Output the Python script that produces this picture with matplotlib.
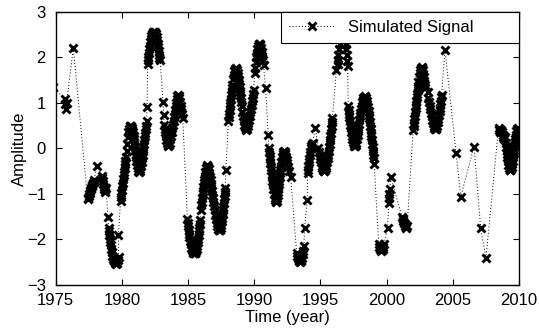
import matplotlib
matplotlib.use('Agg')
import matplotlib.pyplot as plt

plt.rcParams['font.family'] = ['Liberation Sans', 'DejaVu Sans']

# simulated signal (time in years, amplitude)
years = [
    1974.8, 1975.7, 1975.74, 1975.78, 1975.82, 1976.33,
    1977.42, 1977.46, 1977.5, 1977.54, 1977.58, 1977.62, 1977.66, 1977.7, 1977.74, 1977.78, 1977.82, 1977.86, 1977.9, 1978.1,
    1978.5, 1978.53, 1978.56, 1978.6, 1978.63, 1978.66, 1978.7, 1978.75, 1978.8, 1978.94,
    1979.0, 1979.03, 1979.06, 1979.09, 1979.12, 1979.15, 1979.18, 1979.22, 1979.27, 1979.33, 1979.4, 1979.47,
    1979.55, 1979.63, 1979.7, 1979.76, 1979.74,
    1979.9, 1979.93, 1979.96, 1980.0, 1980.03, 1980.06, 1980.1, 1980.13, 1980.16, 1980.2, 1980.23, 1980.26, 1980.3,
    1980.35, 1980.4, 1980.45, 1980.5, 1980.55, 1980.6, 1980.65, 1980.7, 1980.75, 1980.8, 1980.85,
    1980.88, 1980.91, 1980.94, 1980.97, 1981.0, 1981.03, 1981.06, 1981.1, 1981.15, 1981.2, 1981.25, 1981.3, 1981.35,
    1981.4, 1981.45, 1981.5, 1981.53, 1981.56, 1981.6, 1981.63, 1981.66, 1981.7, 1981.73, 1981.76, 1981.8, 1981.83,
    1981.86, 1981.9,
    1981.95, 1981.98, 1982.01, 1982.04, 1982.07, 1982.1, 1982.14, 1982.18, 1982.23, 1982.28, 1982.33, 1982.38, 1982.43,
    1982.48, 1982.53, 1982.58, 1982.63, 1982.68, 1982.72, 1982.75, 1982.78, 1982.81, 1982.84, 1982.9,
    1983.1, 1983.15, 1983.2,
    1983.23, 1983.26, 1983.3, 1983.34, 1983.4, 1983.45, 1983.5, 1983.55, 1983.6, 1983.65, 1983.7, 1983.75, 1983.8, 1983.85,
    1983.9, 1983.95, 1984.0, 1984.03, 1984.06, 1984.1, 1984.15, 1984.2, 1984.25, 1984.3, 1984.35, 1984.4, 1984.45, 1984.5,
    1984.55, 1984.6,
    1984.95, 1984.98, 1985.01, 1985.04, 1985.07, 1985.1, 1985.15, 1985.2, 1985.25, 1985.3, 1985.35, 1985.4, 1985.45,
    1985.5, 1985.55, 1985.6, 1985.65, 1985.7, 1985.73, 1985.76, 1985.79, 1985.82, 1985.85, 1985.88, 1985.92,
    1985.96, 1986.0, 1986.03, 1986.06, 1986.09, 1986.12, 1986.15, 1986.18, 1986.21, 1986.25, 1986.3, 1986.35, 1986.4,
    1986.45, 1986.5, 1986.55, 1986.6, 1986.65, 1986.7, 1986.73, 1986.76, 1986.8,
    1986.83, 1986.87, 1986.91, 1986.95, 1987.0, 1987.05, 1987.1, 1987.15, 1987.2, 1987.25, 1987.3, 1987.35, 1987.4,
    1987.45, 1987.5, 1987.55, 1987.58, 1987.61, 1987.64, 1987.67, 1987.7, 1987.73, 1987.76, 1987.79, 1987.82, 1987.85,
    1988.05, 1988.08, 1988.11, 1988.14, 1988.17, 1988.2, 1988.23, 1988.26, 1988.29, 1988.32, 1988.35, 1988.4, 1988.45,
    1988.5, 1988.55, 1988.6, 1988.65, 1988.7, 1988.75, 1988.8, 1988.83, 1988.86, 1988.89, 1988.92, 1988.95, 1988.98,
    1989.01, 1989.05, 1989.1, 1989.15, 1989.2, 1989.25, 1989.3, 1989.35, 1989.4, 1989.45, 1989.5, 1989.55, 1989.6,
    1989.65, 1989.7, 1989.75, 1989.8, 1989.84, 1989.88, 1989.92, 1989.96,
    1990.02, 1990.06, 1990.1, 1990.14, 1990.18, 1990.22, 1990.27, 1990.32, 1990.37, 1990.42, 1990.47, 1990.52, 1990.56,
    1990.6, 1990.64, 1990.7, 1990.85, 1991.06,
    1991.1, 1991.13, 1991.16, 1991.19, 1991.22, 1991.25, 1991.28, 1991.31, 1991.34, 1991.37, 1991.4, 1991.44, 1991.48,
    1991.53, 1991.58, 1991.63, 1991.68, 1991.73, 1991.77, 1991.8, 1991.83, 1991.86, 1991.89, 1991.92, 1991.95, 1991.98,
    1992.01, 1992.05, 1992.1, 1992.15, 1992.2, 1992.25, 1992.3, 1992.35, 1992.4, 1992.45, 1992.5, 1992.55, 1992.6, 1992.75,
    1993.2, 1993.25, 1993.3, 1993.35, 1993.4, 1993.45, 1993.5, 1993.55, 1993.6, 1993.65, 1993.7, 1993.75, 1993.8, 1994.0,
    1994.03, 1994.06, 1994.09, 1994.12, 1994.15, 1994.18, 1994.22, 1994.26, 1994.3, 1994.35, 1994.4, 1994.6,
    1994.85, 1994.9, 1994.95, 1995.0, 1995.05, 1995.1, 1995.15, 1995.2, 1995.25, 1995.3, 1995.35, 1995.4, 1995.45,
    1995.5, 1995.55, 1995.6, 1995.63, 1995.66, 1995.69, 1995.72, 1995.75, 1995.78, 1995.81, 1995.84, 1995.87, 1995.9,
    1996.2,
    1996.3, 1996.33, 1996.36, 1996.4, 1996.44, 1996.5, 1996.6, 1996.7, 1996.8, 1996.86, 1996.9, 1996.94, 1996.98,
    1997.02, 1997.05,
    1997.1, 1997.13, 1997.16, 1997.19, 1997.22, 1997.25, 1997.28, 1997.31, 1997.35, 1997.4, 1997.45, 1997.5, 1997.55,
    1997.6, 1997.65, 1997.7, 1997.75, 1997.8, 1997.83, 1997.86, 1997.89, 1997.92, 1997.95,
    1998.0, 1998.05, 1998.1, 1998.15, 1998.2, 1998.25, 1998.3, 1998.35, 1998.4, 1998.45, 1998.5, 1998.55, 1998.6,
    1998.63, 1998.66, 1998.7, 1998.73, 1998.76, 1998.79, 1998.82, 1998.85, 1998.88, 1998.91, 1998.94, 1998.97, 1999.0,
    1999.03, 1999.06,
    1999.4, 1999.45, 1999.5, 1999.55, 1999.6, 1999.65, 1999.7, 1999.75, 1999.8, 2000.07, 2000.15, 2000.18, 2000.21,
    2000.25, 2000.3,
    2001.15, 2001.2, 2001.25, 2001.3, 2001.35, 2001.4, 2001.45, 2001.55,
    2002.0, 2002.03, 2002.06, 2002.09, 2002.12, 2002.15, 2002.18, 2002.21, 2002.24, 2002.27, 2002.3, 2002.33, 2002.36,
    2002.4, 2002.45, 2002.5, 2002.55, 2002.6, 2002.65, 2002.7, 2002.75, 2002.78, 2002.81, 2002.84, 2002.87, 2002.9,
    2003.1, 2003.15, 2003.2, 2003.25, 2003.3, 2003.35, 2003.4, 2003.45, 2003.5, 2003.55, 2003.6, 2003.65, 2003.7,
    2003.75, 2003.8, 2003.85, 2003.9, 2003.95, 2004.0, 2004.03, 2004.06, 2004.09, 2004.12, 2004.15,
    2004.4, 2005.25, 2005.6, 2006.6, 2007.1, 2007.5,
    2008.45, 2008.5, 2008.55, 2008.6, 2008.65, 2008.7, 2008.75, 2008.8, 2008.85, 2008.9, 2008.95,
    2009.0, 2009.03, 2009.06, 2009.09, 2009.12, 2009.16, 2009.2, 2009.25, 2009.3, 2009.35, 2009.4, 2009.45, 2009.5,
    2009.53, 2009.56, 2009.59, 2009.62, 2009.65, 2009.68, 2009.72, 2009.76, 2009.8, 2009.85, 2009.9, 2009.95, 2010.0,
    2010.1,
]
amplitude = [
    1.35, 1.08, 0.98, 0.87, 1.0, 2.2,
    -1.12, -1.08, -1.05, -1.01, -0.97, -0.93, -0.9, -0.86, -0.83, -0.8, -0.76, -0.73, -0.7, -0.39,
    -0.6, -0.66, -0.72, -0.78, -0.84, -0.9, -0.96, -0.92, -0.86, -1.51,
    -1.75, -1.82, -1.9, -1.98, -2.05, -2.12, -2.2, -2.28, -2.36, -2.43, -2.48, -2.52,
    -2.54, -2.52, -2.46, -2.38, -1.9,
    -1.15, -1.07, -0.99, -0.91, -0.83, -0.75, -0.67, -0.59, -0.51, -0.43, -0.35, -0.27, -0.19,
    -0.05, 0.1, 0.25, 0.35, 0.42, 0.48, 0.5, 0.48, 0.45, 0.4, 0.35,
    0.28, 0.2, 0.12, 0.04, -0.04, -0.12, -0.2, -0.28, -0.36, -0.44, -0.5, -0.52, -0.5,
    -0.45, -0.38, -0.3, -0.22, -0.14, -0.06, 0.02, 0.1, 0.18, 0.26, 0.34, 0.42, 0.5,
    0.6, 0.9,
    1.85, 1.93, 2.01, 2.09, 2.17, 2.25, 2.33, 2.4, 2.46, 2.5, 2.53, 2.55, 2.56,
    2.55, 2.53, 2.5, 2.45, 2.38, 2.3, 2.22, 2.14, 2.06, 1.98, 1.94,
    1.02, 0.73, 0.51,
    0.43, 0.35, 0.27, 0.19, 0.12, 0.07, 0.05, 0.07, 0.12, 0.2, 0.28, 0.36, 0.44, 0.52,
    0.6, 0.68, 0.76, 0.84, 0.92, 1.0, 1.08, 1.14, 1.17, 1.15, 1.1, 1.02, 0.94, 0.86,
    0.76, 0.66,
    -1.55, -1.63, -1.71, -1.79, -1.87, -1.95, -2.03, -2.11, -2.18, -2.23, -2.27, -2.29, -2.3,
    -2.3, -2.29, -2.26, -2.21, -2.14, -2.06, -1.98, -1.9, -1.82, -1.74, -1.66, -1.58,
    -1.35, -1.25, -1.17, -1.09, -1.01, -0.93, -0.85, -0.77, -0.69, -0.61, -0.52, -0.44, -0.38,
    -0.37, -0.4, -0.46, -0.54, -0.62, -0.7, -0.78, -0.86, -0.94,
    -1.02, -1.1, -1.18, -1.26, -1.36, -1.46, -1.55, -1.63, -1.7, -1.76, -1.79, -1.8, -1.79,
    -1.75, -1.68, -1.6, -1.52, -1.44, -1.36, -1.28, -1.2, -1.12, -1.04, -0.96, -0.88, -0.47,
    0.6, 0.68, 0.76, 0.84, 0.92, 1.0, 1.08, 1.16, 1.24, 1.32, 1.4, 1.52, 1.62,
    1.7, 1.75, 1.76, 1.75, 1.72, 1.66, 1.58, 1.5, 1.42, 1.34, 1.26, 1.18, 1.1,
    1.02, 0.92, 0.8, 0.7, 0.6, 0.52, 0.46, 0.42, 0.41, 0.43, 0.48, 0.55, 0.63,
    0.71, 0.79, 0.87, 0.95, 1.03, 1.11, 1.19, 1.27,
    1.65, 1.77, 1.89, 2.0, 2.1, 2.18, 2.25, 2.29, 2.3, 2.29, 2.26, 2.2, 2.12,
    2.03, 1.94, 1.83, 1.32, 0.29,
    0.0, -0.08, -0.16, -0.24, -0.32, -0.4, -0.48, -0.56, -0.64, -0.72, -0.8, -0.9, -1.0,
    -1.08, -1.14, -1.17, -1.15, -1.1, -1.03, -0.95, -0.87, -0.79, -0.71, -0.63, -0.55, -0.47,
    -0.39, -0.3, -0.2, -0.12, -0.07, -0.06, -0.08, -0.12, -0.18, -0.25, -0.33, -0.41, -0.5, -0.62,
    -2.3, -2.36, -2.41, -2.45, -2.48, -2.49, -2.48, -2.45, -2.4, -2.33, -2.25, -2.15, -1.75, -1.13,
    -0.55, -0.47, -0.39, -0.31, -0.23, -0.15, -0.07, 0.0, 0.05, 0.09, 0.12, 0.45,
    0.0, -0.08, -0.16, -0.24, -0.31, -0.38, -0.43, -0.47, -0.5, -0.5, -0.48, -0.44, -0.38,
    -0.3, -0.22, -0.14, -0.06, 0.02, 0.1, 0.18, 0.26, 0.34, 0.42, 0.5, 0.58, 0.66,
    1.72,
    1.85, 1.95, 2.05, 2.18, 2.3, 2.45, 2.6, 2.65, 2.55, 2.42, 2.3, 2.18, 2.05,
    1.92, 1.8,
    0.92, 0.84, 0.76, 0.68, 0.6, 0.52, 0.44, 0.36, 0.28, 0.2, 0.14, 0.09, 0.06,
    0.05, 0.07, 0.12, 0.2, 0.3, 0.38, 0.46, 0.54, 0.62, 0.7,
    0.78, 0.86, 0.94, 1.01, 1.07, 1.11, 1.13, 1.14, 1.13, 1.1, 1.05, 0.98, 0.9,
    0.82, 0.74, 0.66, 0.58, 0.5, 0.42, 0.34, 0.26, 0.18, 0.1, 0.02, -0.06, -0.14,
    -0.22, -0.35,
    -2.1, -2.16, -2.2, -2.24, -2.25, -2.24, -2.21, -2.16, -2.1, -1.75, -1.2, -1.1, -1.0,
    -0.9, -0.62,
    -1.5, -1.56, -1.6, -1.63, -1.66, -1.7, -1.75, -1.7,
    0.4, 0.48, 0.56, 0.64, 0.72, 0.8, 0.88, 0.96, 1.04, 1.12, 1.2, 1.28, 1.36,
    1.46, 1.56, 1.65, 1.72, 1.77, 1.79, 1.77, 1.72, 1.64, 1.56, 1.48, 1.4, 1.32,
    1.24, 1.1, 1.02, 0.94, 0.86, 0.78, 0.7, 0.62, 0.55, 0.49, 0.45, 0.42, 0.42,
    0.45, 0.5, 0.57, 0.65, 0.73, 0.81, 0.89, 0.97, 1.05, 1.12, 1.17,
    2.16, -0.11, -1.06, 0.04, -1.75, -2.41,
    0.45, 0.4, 0.35, 0.38, 0.4, 0.35, 0.3, 0.25, 0.2, 0.22, 0.25,
    0.12, 0.04, -0.04, -0.12, -0.2, -0.28, -0.36, -0.43, -0.47, -0.48, -0.46, -0.42, -0.35,
    -0.27, -0.19, -0.11, -0.03, 0.05, 0.13, 0.21, 0.29, 0.37, 0.43, 0.45, 0.42, 0.36,
    0.2,
]

xticks = [1975, 1980, 1985, 1990, 1995, 2000, 2005, 2010]
yticks = [-3, -2, -1, 0, 1, 2, 3]

fig = plt.figure(figsize=(5.39, 3.31), dpi=100)
ax = fig.add_axes([0.1033, 0.139, 0.8597, 0.8257])

ax.plot(years, amplitude, color='black', linestyle=(0, (1, 2.2)), linewidth=0.7,
        marker='x', markersize=5.5, markeredgewidth=2.1, label='Simulated Signal')

ax.set_xlim(1975, 2010)
ax.set_ylim(-3, 3)
ax.set_xticks(xticks)
ax.set_yticks(yticks)
ax.tick_params(direction='in', length=4, width=0.8, top=True, right=True, labelsize=12)
ax.tick_params(axis='x', pad=6)
ax.tick_params(axis='y', pad=7)
ax.set_yticklabels([str(v).replace('-', '\u2212') for v in yticks])
for s in ax.spines.values():
    s.set_linewidth(1.0)

ax.set_xlabel('Time (year)', fontsize=12, labelpad=1)
ax.set_ylabel('Amplitude', fontsize=12, labelpad=0)

leg = ax.legend(loc='upper right', bbox_to_anchor=(0.486, 0.89, 0.514, 0.11), mode='expand',
                fontsize=12, numpoints=1, handlelength=2.7, borderaxespad=0,
                fancybox=False, framealpha=1, borderpad=0.5)
leg.get_frame().set_edgecolor('black')
leg.get_frame().set_linewidth(0.8)

fig.savefig('out.png', dpi=100)
